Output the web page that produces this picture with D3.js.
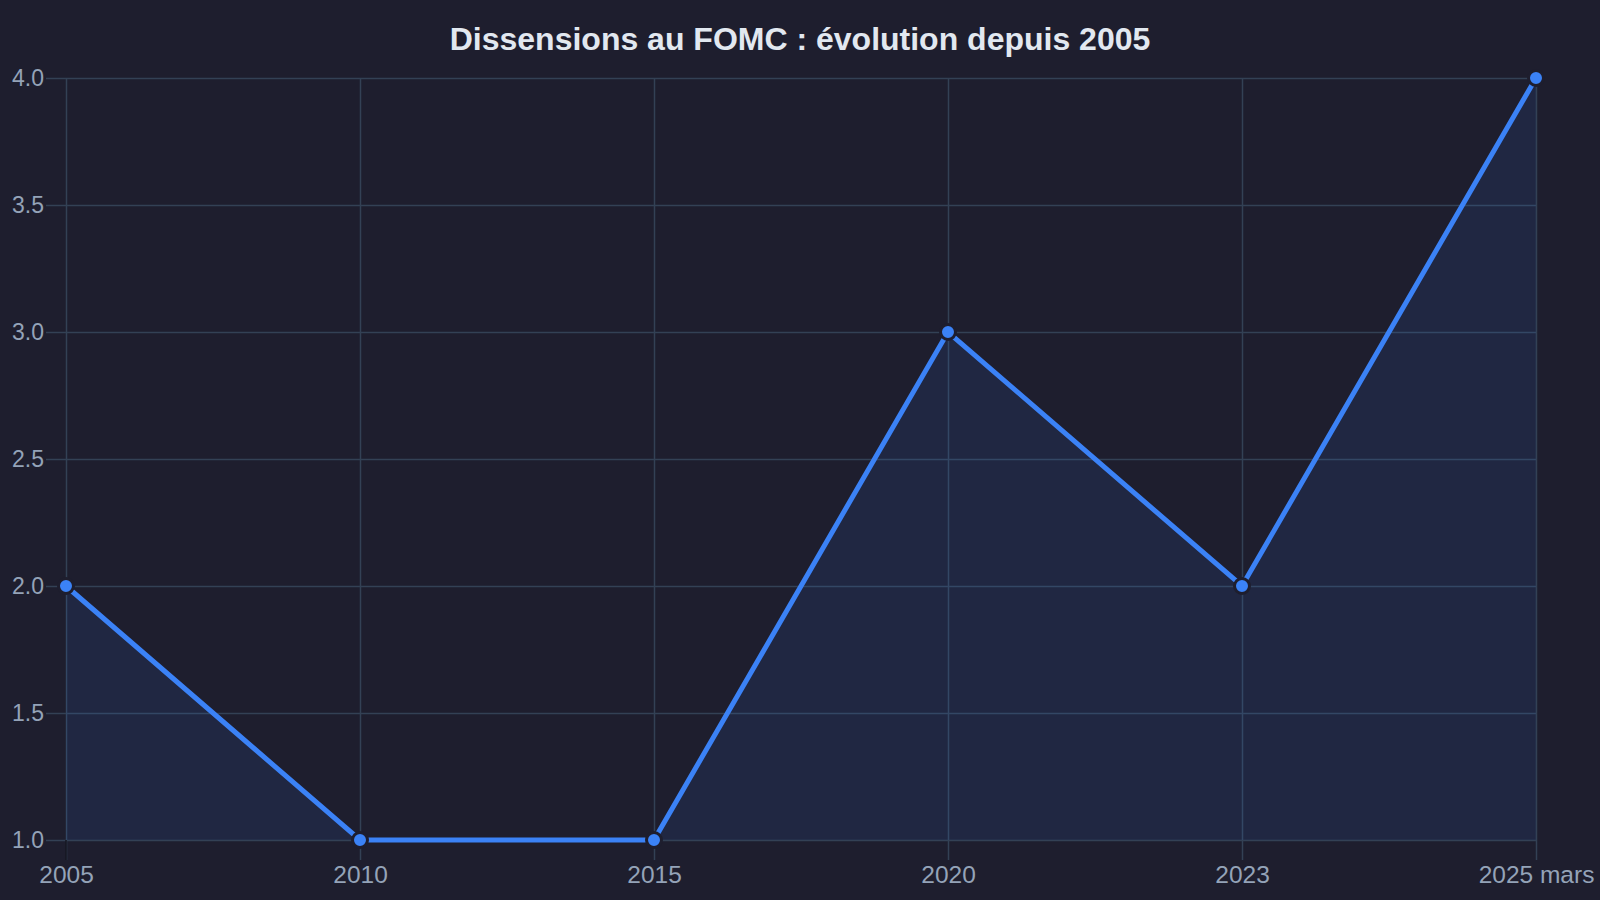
<!DOCTYPE html>
<html>

<head>
    <meta charset="UTF-8">
    <style>
        html, body { margin: 0; padding: 0; background: #1e1e2e; }
        svg { display: block; font-family: "Liberation Sans", Arial, sans-serif; }
    </style>
</head>

<body>
    <svg></svg>
    <script src="https://d3js.org/d3.v7.min.js"></script>

    <script>

        // data
        let periods = ["2005", "2010", "2015", "2020", "2023", "2025 mars"];
        let dissents = [2, 1, 1, 3, 2, 4];
        let yTicks = [1.0, 1.5, 2.0, 2.5, 3.0, 3.5, 4.0];

        let width = 1600, height = 900;
        let margin = { top: 78, right: 64, bottom: 60, left: 66 };

        let svg = d3.select("svg")
            .attr("width", width)
            .attr("height", height)
            .attr("viewBox", "0 0 " + width + " " + height);

        svg.append("rect")
            .attr("width", width)
            .attr("height", height)
            .attr("fill", "#1e1e2e");

        let rows = periods.map((p, i) => ({ period: p, value: dissents[i] }));

        let x = d3.scalePoint()
            .domain(periods)
            .range([margin.left, width - margin.right]);

        let y = d3.scaleLinear()
            .domain([1, 4])
            .range([height - margin.bottom, margin.top]);

        let gridColor = "#334155";
        let labelColor = "#94a3b8";

        // y grid + labels
        let yAxis = svg.append("g")
            .attr("transform", "translate(" + margin.left + ",0)")
            .call(d3.axisLeft(y)
                .tickValues(yTicks)
                .tickFormat(d3.format(".1f"))
                .tickSize(20)
                .tickPadding(2));
        yAxis.select(".domain").remove();
        yAxis.selectAll(".tick line")
            .attr("x2", width - margin.right - margin.left)
            .attr("x1", -20)
            .attr("stroke", gridColor)
            .attr("stroke-width", 1.5);
        yAxis.selectAll(".tick text")
            .attr("x", -22)
            .attr("fill", labelColor)
            .style("font-size", "23px");

        // x grid + labels
        let xAxis = svg.append("g")
            .attr("transform", "translate(0," + (height - margin.bottom) + ")")
            .call(d3.axisBottom(x).tickSize(20).tickPadding(0));
        xAxis.select(".domain").remove();
        xAxis.selectAll(".tick line")
            .attr("y1", -(height - margin.bottom - margin.top))
            .attr("y2", 20)
            .attr("stroke", gridColor)
            .attr("stroke-width", 1.5);
        xAxis.selectAll(".tick text")
            .attr("y", 0)
            .attr("dy", 0)
            .attr("transform", "translate(0,43)")
            .attr("fill", labelColor)
            .style("font-size", "24.5px");

        // darker tick under the first category (axis border)
        svg.append("line")
            .attr("x1", x(periods[0])).attr("x2", x(periods[0]))
            .attr("y1", height - margin.bottom).attr("y2", height - margin.bottom + 20)
            .attr("stroke", "#15151f")
            .attr("stroke-width", 1.5);

        // area
        let area = d3.area()
            .x(d => x(d.period))
            .y0(y(1))
            .y1(d => y(d.value));

        svg.append("path")
            .datum(rows)
            .attr("d", area)
            .attr("fill", "rgba(59,130,246,0.1)");

        let line = d3.line()
            .x(d => x(d.period))
            .y(d => y(d.value));

        svg.append("path")
            .datum(rows)
            .attr("d", line)
            .attr("fill", "none")
            .attr("stroke", "#3b82f6")
            .attr("stroke-width", 5)
            .attr("stroke-linejoin", "miter");

        svg.append("g")
            .selectAll("circle")
            .data(rows)
            .enter()
            .append("circle")
            .attr("cx", d => x(d.period))
            .attr("cy", d => y(d.value))
            .attr("r", 7.5)
            .attr("fill", "#3b82f6")
            .attr("stroke", "#1e1e2e")
            .attr("stroke-width", 3);

        // title
        svg.append("text")
            .attr("x", width / 2)
            .attr("y", 50)
            .attr("text-anchor", "middle")
            .attr("fill", "#e2e8f0")
            .style("font-size", "32px")
            .style("font-weight", "bold")
            .text("Dissensions au FOMC : évolution depuis 2005");

    </script>
</body>

</html>
